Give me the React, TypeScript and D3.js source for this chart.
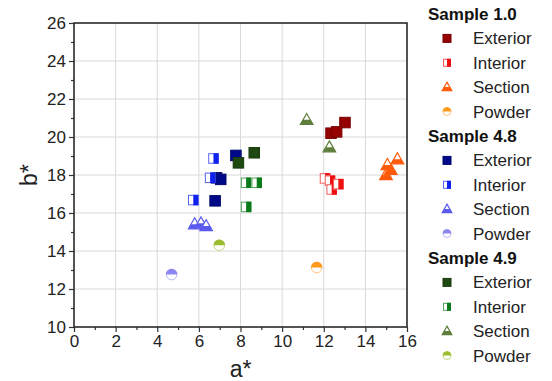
import React, { useEffect, useRef } from "react";
import * as d3 from "d3";

// a*, b* readings per sample and surface
const s10Exterior = [[12.35, 20.2], [12.62, 20.27], [13.02, 20.76]];
const s10Interior = [[12.06, 17.82], [12.3, 17.7], [12.38, 17.24], [12.7, 17.52]];
const s10Section = [[14.99, 17.99], [15.22, 18.26], [15.06, 18.52], [15.54, 18.82]];
const s10Powder = [[11.66, 13.13]];

const s48Exterior = [[7.78, 19.03], [6.85, 17.85], [7.05, 17.77], [6.78, 16.64]];
const s48Interior = [[6.7, 18.87], [6.54, 17.85], [5.73, 16.68]];
const s48Section = [[5.8, 15.4], [6.1, 15.45], [6.35, 15.3]];
const s48Powder = [[4.69, 12.76]];

const s49Exterior = [[7.9, 18.64], [8.66, 19.17]];
const s49Interior = [[8.27, 17.59], [8.78, 17.59], [8.27, 16.32]];
const s49Section = [[11.18, 20.89], [12.27, 19.45]];
const s49Powder = [[6.98, 14.3]];

const xTicks = [0, 2, 4, 6, 8, 10, 12, 14, 16];
const yTicks = [10, 12, 14, 16, 18, 20, 22, 24, 26];

const groups = [
    {
        name: "Sample 1.0",
        series: [
            { label: "Exterior", kind: "full", color: "#950000", data: s10Exterior },
            { label: "Interior", kind: "half", color: "#ee1111", data: s10Interior },
            { label: "Section", kind: "tri", color: "#ff5a0a", data: s10Section },
            { label: "Powder", kind: "circ", color: "#ff9a1a", data: s10Powder },
        ],
    },
    {
        name: "Sample 4.8",
        series: [
            { label: "Exterior", kind: "full", color: "#000a88", data: s48Exterior },
            { label: "Interior", kind: "half", color: "#1122ee", data: s48Interior },
            { label: "Section", kind: "tri", color: "#5a5aee", data: s48Section },
            { label: "Powder", kind: "circ", color: "#8c86f0", data: s48Powder },
        ],
    },
    {
        name: "Sample 4.9",
        series: [
            { label: "Exterior", kind: "full", color: "#1e4a12", data: s49Exterior },
            { label: "Interior", kind: "half", color: "#0a7a1a", data: s49Interior },
            { label: "Section", kind: "tri", color: "#5e7e3c", data: s49Section },
            { label: "Powder", kind: "circ", color: "#9cbc30", data: s49Powder },
        ],
    },
];

// draws one marker centred at (cx, cy)
function drawMarker(g, kind, color, cx, cy, s) {
    const m = g.append("g").attr("transform", `translate(${cx},${cy})`);
    const h = s / 2;
    if (kind === "full") {
        m.append("rect")
            .attr("x", -h).attr("y", -h)
            .attr("width", s).attr("height", s)
            .attr("fill", color)
            .attr("stroke", d3.color(color).darker(0.6))
            .attr("stroke-width", 1);
    } else if (kind === "half") {
        m.append("rect")
            .attr("x", -h).attr("y", -h)
            .attr("width", s).attr("height", s)
            .attr("fill", "white");
        m.append("rect")
            .attr("x", 0).attr("y", -h)
            .attr("width", h).attr("height", s)
            .attr("fill", color);
        m.append("rect")
            .attr("x", -h + 0.5).attr("y", -h + 0.5)
            .attr("width", s - 1).attr("height", s - 1)
            .attr("fill", "none")
            .attr("stroke", color)
            .attr("stroke-opacity", 0.7)
            .attr("stroke-width", 1);
    } else if (kind === "tri") {
        const w = s * 1.2;
        const th = s * 1.05;
        const top = -th * 0.6;
        const bot = th * 0.4;
        const mid = bot - th * 0.42;
        const frac = (mid - top) / (bot - top);
        m.append("path")
            .attr("d", `M0,${top}L${w / 2},${bot}L${-w / 2},${bot}Z`)
            .attr("fill", "white");
        m.append("path")
            .attr("d", `M${(-w / 2) * frac},${mid}L${(w / 2) * frac},${mid}L${w / 2},${bot}L${-w / 2},${bot}Z`)
            .attr("fill", color);
        m.append("path")
            .attr("d", `M0,${top}L${w / 2},${bot}L${-w / 2},${bot}Z`)
            .attr("fill", "none")
            .attr("stroke", color)
            .attr("stroke-width", 1.2)
            .attr("stroke-linejoin", "miter");
    } else {
        const r = s * 0.55;
        m.append("circle").attr("r", r).attr("fill", "white");
        m.append("path")
            .attr("d", `M${-r},0A${r},${r} 0 0 1 ${r},0Z`)
            .attr("fill", color);
        m.append("circle")
            .attr("r", r - 0.5)
            .attr("fill", "none")
            .attr("stroke", color)
            .attr("stroke-opacity", 0.6)
            .attr("stroke-width", 1);
    }
}

const App = () => {
    const svgRef = useRef(null);

    useEffect(() => {
        const width = 552;
        const height = 381;
        const margin = { left: 74, right: 145, top: 23, bottom: 54 };
        const font = "'Liberation Sans', Arial, sans-serif";

        const svg = d3.select(svgRef.current);
        svg.selectAll("*").remove();
        svg.attr("width", width).attr("height", height);

        svg.append("rect")
            .attr("width", width).attr("height", height)
            .attr("fill", "white");

        const xScale = d3.scaleLinear()
            .domain([0, 16])
            .range([margin.left, width - margin.right]);
        const yScale = d3.scaleLinear()
            .domain([10, 26])
            .range([height - margin.bottom, margin.top]);

        const x0 = xScale.range()[0];
        const x1 = xScale.range()[1];
        const y0 = yScale.range()[0];
        const y1 = yScale.range()[1];

        // grid
        const grid = svg.append("g");
        xTicks.slice(1, -1).forEach((t) => {
            grid.append("line")
                .attr("x1", xScale(t)).attr("x2", xScale(t))
                .attr("y1", y0).attr("y2", y1)
                .attr("stroke", "#d8d8d8").attr("stroke-width", 1);
        });
        yTicks.slice(1, -1).forEach((t) => {
            grid.append("line")
                .attr("x1", x0).attr("x2", x1)
                .attr("y1", yScale(t)).attr("y2", yScale(t))
                .attr("stroke", "#d8d8d8").attr("stroke-width", 1);
        });

        // axes
        const xAxis = svg.append("g")
            .attr("transform", `translate(0,${y0})`)
            .call(d3.axisBottom(xScale).tickValues(xTicks).tickSize(5).tickPadding(3).tickSizeOuter(0));
        svg.append("g")
            .attr("transform", `translate(0,${y0})`)
            .call(d3.axisBottom(xScale).tickValues(d3.range(1, 16, 2)).tickSize(3).tickFormat(() => "").tickSizeOuter(0))
            .select(".domain").remove();
        const yAxis = svg.append("g")
            .attr("transform", `translate(${x0},0)`)
            .call(d3.axisLeft(yScale).tickValues(yTicks).tickSize(5).tickPadding(3).tickSizeOuter(0));
        svg.append("g")
            .attr("transform", `translate(${x0},0)`)
            .call(d3.axisLeft(yScale).tickValues(d3.range(11, 26, 2)).tickSize(3).tickFormat(() => "").tickSizeOuter(0))
            .select(".domain").remove();

        [xAxis, yAxis].forEach((a) => {
            a.selectAll("text")
                .attr("font-family", font)
                .attr("font-size", 17)
                .attr("fill", "#222");
        });
        svg.selectAll(".tick line").attr("stroke", "#333").attr("stroke-width", 1.2);
        svg.selectAll(".domain").remove();

        // frame
        svg.append("rect")
            .attr("x", x0).attr("y", y1)
            .attr("width", x1 - x0).attr("height", y0 - y1)
            .attr("fill", "none")
            .attr("stroke", "#2a2a2a")
            .attr("stroke-width", 1.6);

        // axis titles
        svg.append("text")
            .attr("x", (x0 + x1) / 2).attr("y", 377)
            .attr("text-anchor", "middle")
            .attr("font-family", font).attr("font-size", 23)
            .attr("fill", "#222")
            .text("a*");
        svg.append("text")
            .attr("transform", `translate(37,${(y0 + y1) / 2}) rotate(-90)`)
            .attr("text-anchor", "middle")
            .attr("font-family", font).attr("font-size", 23)
            .attr("fill", "#222")
            .text("b*");

        // points
        const pts = svg.append("g");
        groups.forEach((grp) => {
            grp.series.forEach((se) => {
                se.data.forEach(([a, b]) => {
                    drawMarker(pts, se.kind, se.color, xScale(a), yScale(b), 10.5);
                });
            });
        });

        // legend
        const lg = svg.append("g");
        let row = 0;
        const rowH = 24.4;
        const top = 14;
        groups.forEach((grp) => {
            lg.append("text")
                .attr("x", 428).attr("y", top + row * rowH)
                .attr("dy", "0.35em")
                .attr("font-family", font).attr("font-size", 17)
                .attr("font-weight", "bold")
                .attr("fill", "#111")
                .text(grp.name);
            row++;
            grp.series.forEach((se) => {
                const yy = top + row * rowH;
                drawMarker(lg, se.kind, se.color, 447, yy, 8);
                lg.append("text")
                    .attr("x", 473).attr("y", yy)
                    .attr("dy", "0.35em")
                    .attr("font-family", font).attr("font-size", 17)
                    .attr("fill", "#222")
                    .text(se.label);
                row++;
            });
        });
    }, []);

    return (
        <svg
            ref={svgRef}
            style={{ position: "fixed", left: 0, top: 0 }}
        ></svg>
    );
};

export default App;
